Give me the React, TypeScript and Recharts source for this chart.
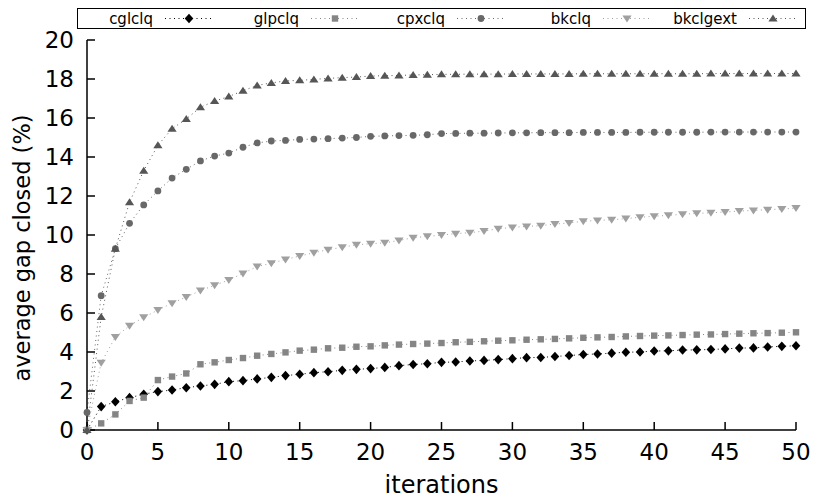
import React from 'react'
import { LineChart, Line, XAxis, YAxis, Label } from 'recharts'

// average gap closed (%) per iteration
const iterations = Array.from({ length: 51 }, (_, i) => i)

const cglclq = [
  0, 1.2, 1.45, 1.66, 1.83, 1.97, 2.05, 2.17, 2.26, 2.34,
  2.48, 2.53, 2.62, 2.7, 2.79, 2.86, 2.94, 2.99, 3.06, 3.11,
  3.15, 3.21, 3.3, 3.36, 3.4, 3.47, 3.49, 3.54, 3.57, 3.61,
  3.66, 3.71, 3.72, 3.77, 3.82, 3.87, 3.9, 3.94, 3.99, 4.0,
  4.05, 4.06, 4.1, 4.11, 4.13, 4.16, 4.2, 4.21, 4.26, 4.29,
  4.32,
]
const glpclq = [
  0, 0.34, 0.8, 1.49, 1.66, 2.56, 2.74, 2.9, 3.37, 3.47,
  3.59, 3.69, 3.81, 3.9, 3.98, 4.07, 4.12, 4.19, 4.22, 4.27,
  4.29, 4.34, 4.38, 4.41, 4.43, 4.46, 4.5, 4.52, 4.55, 4.58,
  4.6, 4.63, 4.65, 4.67, 4.7, 4.73, 4.75, 4.77, 4.8, 4.82,
  4.84, 4.85, 4.87, 4.89, 4.9, 4.92, 4.94, 4.96, 4.97, 4.99,
  5.01,
]
const cpxclq = [
  0.9, 6.89, 9.3, 10.6, 11.54, 12.26, 12.92, 13.37, 13.8, 14.05,
  14.2, 14.5, 14.72, 14.82, 14.85, 14.9, 14.92, 14.94, 14.97, 15.0,
  15.06, 15.08, 15.1, 15.11, 15.14, 15.2, 15.21, 15.22, 15.22, 15.23,
  15.24, 15.24, 15.25, 15.25, 15.25, 15.26, 15.26, 15.26, 15.26, 15.27,
  15.27, 15.27, 15.27, 15.27, 15.28, 15.28, 15.28, 15.28, 15.28, 15.28,
  15.28,
]
const bkclq = [
  0, 3.45, 4.77, 5.35, 5.78, 6.15, 6.5, 6.82, 7.15, 7.42,
  7.69, 8.03, 8.38, 8.55, 8.75, 8.92, 9.09, 9.25, 9.37, 9.5,
  9.55, 9.6, 9.72, 9.86, 9.93, 10.0, 10.07, 10.12, 10.2, 10.32,
  10.39, 10.44, 10.48, 10.56, 10.62, 10.7, 10.75, 10.78, 10.84, 10.91,
  10.96, 11.01, 11.06, 11.11, 11.14, 11.18, 11.23, 11.26, 11.3, 11.33,
  11.38,
]
const bkclgext = [
  0, 5.8, 9.3, 11.68, 13.3, 14.6, 15.45, 15.95, 16.55, 16.87,
  17.1, 17.4, 17.67, 17.8, 17.9, 17.93, 17.98, 18.03, 18.07, 18.1,
  18.15, 18.17, 18.18, 18.21, 18.22, 18.24, 18.24, 18.25, 18.25, 18.25,
  18.26, 18.26, 18.26, 18.26, 18.26, 18.27, 18.27, 18.27, 18.27, 18.27,
  18.27, 18.27, 18.27, 18.27, 18.28, 18.28, 18.28, 18.28, 18.28, 18.28,
  18.28,
]

const xTicks = [0, 5, 10, 15, 20, 25, 30, 35, 40, 45, 50]
const yTicks = [0, 2, 4, 6, 8, 10, 12, 14, 16, 18, 20]

type Shape = 'diamond' | 'square' | 'circle' | 'triangleDown' | 'triangleUp'

const series: { name: string; values: number[]; color: string; shape: Shape }[] = [
  { name: 'cglclq', values: cglclq, color: '#000000', shape: 'diamond' },
  { name: 'glpclq', values: glpclq, color: '#858585', shape: 'square' },
  { name: 'cpxclq', values: cpxclq, color: '#686868', shape: 'circle' },
  { name: 'bkclq', values: bkclq, color: '#a0a0a0', shape: 'triangleDown' },
  { name: 'bkclgext', values: bkclgext, color: '#565656', shape: 'triangleUp' },
]

const data = iterations.map((it, i) => {
  const row: Record<string, number> = { it }
  series.forEach(s => { row[s.name] = s.values[i] })
  return row
})

const FONT = '"DejaVu Sans", Verdana, sans-serif'
const DASH = '1 3.5'

const Marker = ({ cx, cy, shape, color }: { cx: number; cy: number; shape: Shape; color: string }) => {
  if (cx == null || cy == null) return null
  switch (shape) {
    case 'diamond':
      return <polygon points={`${cx},${cy - 4.8} ${cx + 4.3},${cy} ${cx},${cy + 4.8} ${cx - 4.3},${cy}`} fill={color} />
    case 'square':
      return <rect x={cx - 3.2} y={cy - 3.2} width={6.4} height={6.4} fill={color} />
    case 'circle':
      return <circle cx={cx} cy={cy} r={3.4} fill={color} />
    case 'triangleDown':
      return <polygon points={`${cx - 4.6},${cy - 3} ${cx + 4.6},${cy - 3} ${cx},${cy + 4}`} fill={color} />
    default:
      return <polygon points={`${cx - 4.6},${cy + 3} ${cx + 4.6},${cy + 3} ${cx},${cy - 4}`} fill={color} />
  }
}

const YTitle = (props: any) => {
  const vb = props.viewBox || { x: 0, y: 40, width: 87, height: 390 }
  const cx = 22
  const cy = vb.y + vb.height / 2 + 13
  return (
    <text
      x={cx}
      y={cy}
      transform={`rotate(-90 ${cx} ${cy})`}
      textAnchor="middle"
      dominantBaseline="central"
      fontSize={22.5}
      fontFamily={FONT}
      fill="#000"
    >
      average gap closed (%)
    </text>
  )
}

const ChartLegend = () => (
  <svg width={830} height={40} style={{ position: 'absolute', left: 0, top: 0, pointerEvents: 'none' }}>
    <rect x={77.5} y={8.5} width={728} height={20} fill="#fff" stroke="#000" strokeWidth={1} />
    {series.map((s, i) => {
      const x0 = 153 + 146 * i
      return (
        <g key={s.name}>
          <text x={x0} y={24} textAnchor="end" fontSize={15} fontFamily={FONT} fill="#000">
            {s.name}
          </text>
          <line x1={x0 + 12} x2={x0 + 60} y1={18.5} y2={18.5} stroke={s.color} strokeDasharray={DASH} />
          <Marker cx={x0 + 36} cy={18.5} shape={s.shape} color={s.color} />
        </g>
      )
    })}
  </svg>
)

export default function App() {
  const axisStroke = { stroke: '#000', strokeWidth: 1.5 }
  return (
    <div style={{ position: 'absolute', left: 0, top: 0, width: 830, height: 498, background: '#fff', fontFamily: FONT }}>
      <LineChart width={830} height={498} data={data} margin={{ top: 40, right: 34, left: 0, bottom: 0 }}>
        <XAxis
          dataKey="it"
          type="number"
          domain={[0, 50]}
          ticks={xTicks}
          interval={0}
          height={68}
          tickSize={-8}
          tickMargin={22}
          axisLine={axisStroke}
          tickLine={axisStroke}
          tick={{ fontSize: 23, fill: '#000', fontFamily: FONT }}
        >
          <Label value="iterations" position="insideBottom" offset={5} fontSize={24} fill="#000" fontFamily={FONT} />
        </XAxis>
        <XAxis
          xAxisId="top"
          orientation="top"
          dataKey="it"
          type="number"
          domain={[0, 50]}
          ticks={xTicks}
          interval={0}
          height={0}
          mirror
          tick={false}
          tickSize={8}
          axisLine={axisStroke}
          tickLine={axisStroke}
        />
        <YAxis
          type="number"
          domain={[0, 20]}
          ticks={yTicks}
          interval={0}
          width={87}
          tickSize={-8}
          tickMargin={21}
          axisLine={axisStroke}
          tickLine={axisStroke}
          tick={{ fontSize: 23, fill: '#000', fontFamily: FONT }}
          label={<YTitle />}
        />
        <YAxis
          yAxisId="right"
          orientation="right"
          type="number"
          domain={[0, 20]}
          ticks={yTicks}
          interval={0}
          width={0}
          mirror
          tick={false}
          tickSize={8}
          axisLine={axisStroke}
          tickLine={axisStroke}
        />
        {series.map(s => (
          <Line
            key={s.name}
            type="linear"
            dataKey={s.name}
            stroke={s.color}
            strokeWidth={1}
            strokeDasharray={DASH}
            isAnimationActive={false}
            activeDot={false}
            dot={(p: any) => (
              <Marker key={`${s.name}-${p.index}`} cx={p.cx} cy={p.cy} shape={s.shape} color={s.color} />
            )}
          />
        ))}
      </LineChart>
      <ChartLegend />
    </div>
  )
}
